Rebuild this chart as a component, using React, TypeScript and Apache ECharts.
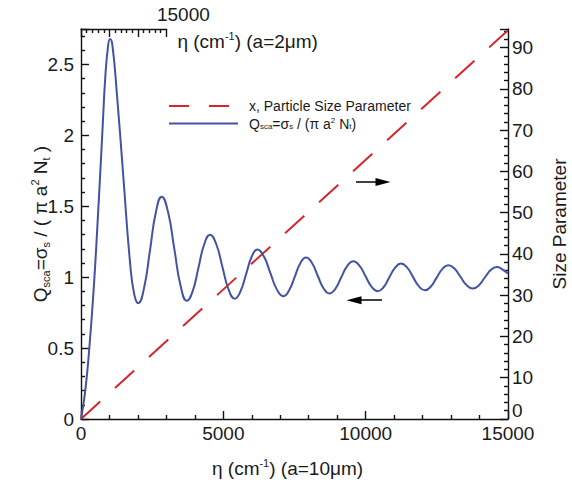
import React, { useEffect, useRef } from 'react';
import * as echarts from 'echarts';

// wavenumber eta (cm^-1), a = 10 um
const ETA = [0, 150, 300, 450, 600, 750, 850, 950, 1020, 1100,
  1250, 1490, 1720, 1870, 2013, 2218, 2424, 2630, 2835, 3056,
  3278, 3499, 3720, 3923, 4126, 4329, 4532, 4749, 4966, 5183,
  5400, 5599, 5797, 5996, 6194, 6422, 6650, 6879, 7107, 7306,
  7505, 7705, 7904, 8109, 8313, 8518, 8723, 8934, 9144, 9355,
  9566, 9780, 9995, 10210, 10424, 10628, 10832, 11037, 11241, 11452,
  11662, 11873, 12084, 12289, 12494, 12699, 12904, 13118, 13332, 13546,
  13760, 13971, 14181, 14392, 14603, 14800, 15000];
// scattering efficiency Q_sca
const QSCA = [0, 0.2, 0.52, 0.93, 1.45, 2.02, 2.4, 2.63, 2.68, 2.64,
  2.32, 1.7, 1.11, 0.88, 0.817, 0.927, 1.19, 1.458, 1.568, 1.461,
  1.2, 0.94, 0.833, 0.901, 1.067, 1.232, 1.3, 1.234, 1.074, 0.914,
  0.848, 0.899, 1.02, 1.144, 1.195, 1.147, 1.03, 0.914, 0.866, 0.906,
  1.0, 1.099, 1.139, 1.102, 1.012, 0.922, 0.885, 0.918, 0.999, 1.08,
  1.113, 1.082, 1.007, 0.932, 0.901, 0.929, 0.999, 1.068, 1.096, 1.069,
  1.002, 0.935, 0.908, 0.934, 0.997, 1.059, 1.085, 1.061, 1.002, 0.944,
  0.92, 0.942, 0.996, 1.05, 1.072, 1.055, 1.025];
// particle size parameter x
const SIZE_ETA = [0, 15000];
const SIZE_X = [0, 94.2];

// arrows [eta, value]
const ARROW_RIGHT = [[9660, 57.4], [10609, 57.4]];
const ARROW_LEFT = [[10574, 0.838], [9590, 0.838]];

const NAME_X = 'x, Particle Size Parameter';
const NAME_Q = 'Qsca';

const FONT = "'Liberation Sans', Arial, Helvetica, sans-serif";
const INK = '#1a1a1a';

export default function App() {
  const ref = useRef<HTMLDivElement>(null);
  useEffect(() => {
    document.body.style.margin = '0';
    const chart = echarts.init(ref.current!, undefined, { renderer: 'svg' });
    const line = { color: '#111', width: 1.4 };
    const richName = (size: number, lh: number) => ({
      n: { fontSize: size, fontFamily: FONT, color: INK, lineHeight: lh },
      sub: { fontSize: Math.round(size * 0.58), fontFamily: FONT, color: INK, verticalAlign: 'bottom', lineHeight: Math.round(size * 0.58) },
      sup: { fontSize: Math.round(size * 0.58), fontFamily: FONT, color: INK, verticalAlign: 'top', lineHeight: Math.round(size * 0.58) },
    });
    const label = { fontSize: 19, fontFamily: FONT, color: INK };
    const plain = (v: number) => String(v);
    const qData = ETA.map((e, i) => [e, QSCA[i]]);
    const xData = SIZE_ETA.map((e, i) => [e, SIZE_X[i]]);

    chart.setOption({
      animation: false,
      backgroundColor: '#fff',
      grid: [
        { left: 81, right: 64, top: 29, bottom: 65, outerBoundsMode: 'none', containLabel: false },
        { left: 81, width: 85.4, top: 29, height: 390, outerBoundsMode: 'none', containLabel: false },
      ],
      legend: {
        left: 163,
        top: 94,
        orient: 'vertical',
        itemWidth: 69,
        itemHeight: 14,
        itemGap: 3.5,
        selectedMode: false,
        itemStyle: { opacity: 0 },
        data: [
          { name: NAME_X, lineStyle: { type: [20, 20] } },
          { name: NAME_Q },
        ],
        formatter: (name: string) =>
          name === NAME_Q
            ? '{n|Q}{sub|sca}{n|=σ}{sub|s}{n| / (π a}{sup|2}{n| N}{sub|t}{n|)}'
            : '{n|' + name + '}',
        textStyle: {
          fontSize: 14,
          fontFamily: FONT,
          color: INK,
          padding: [0, 0, 0, 6],
          rich: richName(14, 14),
        },
      },
      xAxis: [
        {
          type: 'value',
          gridIndex: 0,
          position: 'bottom',
          min: 0,
          max: 15000,
          interval: 5000,
          axisLine: { show: true, onZero: false, lineStyle: line },
          axisTick: { show: true, inside: true, length: 8, lineStyle: line },
          minorTick: { show: true, splitNumber: 5, length: 4, lineStyle: line },
          splitLine: { show: false },
          axisLabel: { ...label, margin: 5, formatter: plain },
          name: '{n|η (cm}{sup|-1}{n|) (a=10μm)}',
          nameLocation: 'middle',
          nameGap: 38,
          nameMoveOverlap: false,
          nameTextStyle: { fontSize: 19, fontFamily: FONT, color: INK, padding: [0, 14, 0, 0], rich: richName(19, 22) },
        },
        {
          type: 'value',
          gridIndex: 1,
          position: 'top',
          min: 0,
          max: 15000,
          interval: 5000,
          axisLine: { show: true, onZero: false, lineStyle: line },
          axisTick: { show: true, inside: true, length: 8, lineStyle: line },
          minorTick: { show: true, splitNumber: 5, length: 4, lineStyle: line },
          splitLine: { show: false },
          axisLabel: {
            ...label,
            margin: 5,
            padding: [0, 0, 0, 34],
            formatter: (v: number) => (v === 15000 ? '15000' : ''),
          },
          name: '{n|η (cm}{sup|-1}{n|) (a=2μm)}',
          nameLocation: 'end',
          nameGap: 11,
          nameMoveOverlap: false,
          nameTextStyle: { fontSize: 19, fontFamily: FONT, color: INK, padding: [24, 0, 0, 0], rich: richName(19, 22) },
        },
      ],
      yAxis: [
        {
          type: 'value',
          gridIndex: 0,
          position: 'left',
          min: 0,
          max: 2.75,
          interval: 0.5,
          axisLine: { show: true, onZero: false, lineStyle: line },
          axisTick: { show: true, inside: true, length: 8, lineStyle: line },
          minorTick: { show: true, splitNumber: 5, length: 4, lineStyle: line },
          splitLine: { show: false },
          axisLabel: { ...label, margin: 7, showMaxLabel: false, formatter: plain },
          name: '{n|Q}{sub|sca}{n|=σ}{sub|s}{n| / ( π a}{sup|2}{n| N}{sub|t}{n| )}',
          nameLocation: 'middle',
          nameRotate: 90,
          nameGap: 30,
          nameMoveOverlap: false,
          nameTextStyle: { fontSize: 19, fontFamily: FONT, color: INK, rich: richName(19, 22) },
        },
        {
          type: 'value',
          gridIndex: 0,
          position: 'right',
          min: 0,
          max: 94.5,
          interval: 10,
          axisLine: { show: true, onZero: false, lineStyle: line },
          axisTick: { show: true, inside: true, length: 8, lineStyle: line },
          minorTick: { show: true, splitNumber: 5, length: 4, lineStyle: line },
          splitLine: { show: false },
          axisLabel: {
            ...label,
            margin: 4,
            showMaxLabel: false,
            formatter: (v: number) => (v === 0 ? '{z|0}' : String(v)),
            rich: { z: { ...label, padding: [0, 0, 18, 0] } },
          },
          name: 'Size Parameter',
          nameLocation: 'middle',
          nameRotate: 90,
          nameGap: 42,
          nameMoveOverlap: false,
          nameTextStyle: { fontSize: 19, fontFamily: FONT, color: INK },
        },
        { type: 'value', gridIndex: 1, show: false, min: 0, max: 1 },
      ],
      series: [
        {
          name: NAME_X,
          type: 'line',
          xAxisIndex: 0,
          yAxisIndex: 1,
          data: xData,
          symbol: 'none',
          color: '#d7232a',
          lineStyle: { color: '#d7232a', width: 2, type: [26, 20] },
          markLine: {
            silent: true,
            symbol: ['none', 'triangle'],
            label: { show: false },
            emphasis: { disabled: true },
            lineStyle: { color: '#000', width: 1.5, type: 'solid' },
            data: [[
              { coord: ARROW_RIGHT[0], symbol: 'none' },
              { coord: ARROW_RIGHT[1], symbol: 'triangle', symbolSize: [8, 15] },
            ]],
          },
        },
        {
          name: NAME_Q,
          type: 'line',
          xAxisIndex: 0,
          yAxisIndex: 0,
          data: qData,
          symbol: 'none',
          smooth: 0.5,
          color: '#4253a3',
          lineStyle: { color: '#4253a3', width: 2 },
          markLine: {
            silent: true,
            symbol: ['none', 'triangle'],
            label: { show: false },
            emphasis: { disabled: true },
            lineStyle: { color: '#000', width: 1.5, type: 'solid' },
            data: [[
              { coord: ARROW_LEFT[0], symbol: 'none' },
              { coord: ARROW_LEFT[1], symbol: 'triangle', symbolSize: [8, 15] },
            ]],
          },
        },
      ],
    });
    return () => chart.dispose();
  }, []);
  return (
    <div
      ref={ref}
      style={{ position: 'absolute', left: 0, top: 0, width: 572, height: 484, background: '#fff' }}
    />
  );
}
